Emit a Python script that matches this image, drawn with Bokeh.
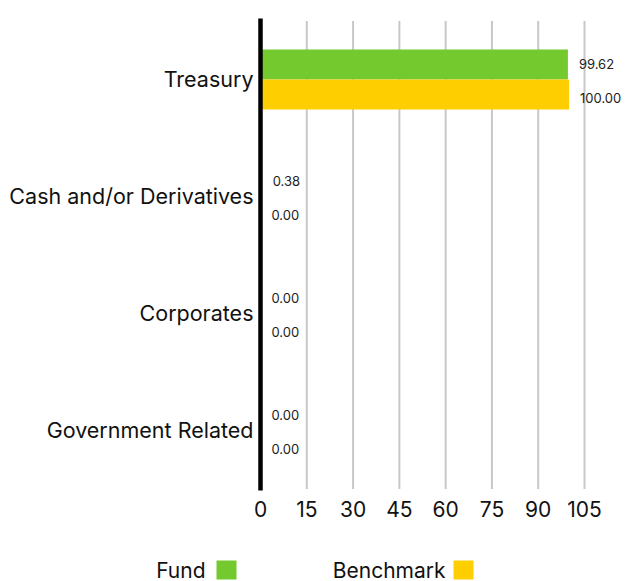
from bokeh.plotting import figure
from bokeh.models import (ColumnDataSource, Range1d, FixedTicker, Label, BoxAnnotation)
from bokeh.core.properties import value
from bokeh.embed import file_html
from bokeh.resources import INLINE

categories = ["Treasury", "Cash and/or Derivatives", "Corporates", "Government Related"]
fund = [99.62, 0.38, 0.00, 0.00]
benchmark = [100.00, 0.00, 0.00, 0.00]
x_ticks = [0, 15, 30, 45, 60, 75, 90, 105]
series_names = ["Fund", "Benchmark"]

FONT = "Inter"
GREEN = "#73C92D"
YELLOW = "#FFCE00"
series_colors = [GREEN, YELLOW]

n = len(categories)
ypos = [n - 1 - i for i in range(n)]          # first category at the top
OFF = 0.128                                   # bar offset inside a band
BAR_H = 0.255                                 # bar thickness (band units)

src = ColumnDataSource(dict(
    y_fund=[y + OFF for y in ypos],
    y_bench=[y - OFF for y in ypos],
    fund=fund,
    bench=benchmark,
    fund_lbl=["{:.2f}".format(v) for v in fund],
    bench_lbl=["{:.2f}".format(v) for v in benchmark],
))

# the frame fills the whole canvas; axes are pinned at fixed data locations
p = figure(
    x_range=Range1d(-84.26, 118.61),
    y_range=Range1d(-1.2906, 3.6752),
    width=626, height=581,
    output_backend="svg", toolbar_location=None,
    min_border=0,
)
p.outline_line_color = None
p.xgrid.grid_line_color = None
p.ygrid.grid_line_color = None

# vertical grid lines at the tick values, spanning the category bands
p.segment(x0=x_ticks, x1=x_ticks, y0=[-0.5] * len(x_ticks), y1=[n - 0.5] * len(x_ticks),
          line_color="#c8c8c8", line_width=2)

p.hbar(y="y_fund", left=0, right="fund", height=BAR_H, source=src,
       fill_color=GREEN, line_color=None)
p.hbar(y="y_bench", left=0, right="bench", height=BAR_H, source=src,
       fill_color=YELLOW, line_color=None)

p.text(x="fund", y="y_fund", text="fund_lbl", source=src,
       x_offset=11, y_offset=-1, text_align="left", text_baseline="middle",
       text_font=value(FONT), text_font_size="13px", text_color="#222222")
p.text(x="bench", y="y_bench", text="bench_lbl", source=src,
       x_offset=11, y_offset=4, text_align="left", text_baseline="middle",
       text_font=value(FONT), text_font_size="13px", text_color="#222222")

xa = p.xaxis[0]
xa.fixed_location = -0.5
xa.ticker = FixedTicker(ticks=x_ticks)
xa.axis_line_color = None
xa.major_tick_line_color = None
xa.minor_tick_line_color = None
xa.major_label_text_font = FONT
xa.major_label_text_font_size = "21px"
xa.major_label_text_color = "#111111"
xa.major_label_standoff = 6

ya = p.yaxis[0]
ya.fixed_location = 0
ya.bounds = (-0.513, 3.521)
ya.ticker = FixedTicker(ticks=ypos)
ya.major_label_overrides = {y: c for y, c in zip(ypos, categories)}
ya.axis_line_color = "black"
ya.axis_line_width = 4.5
ya.major_tick_line_color = None
ya.minor_tick_line_color = None
ya.major_label_text_font = FONT
ya.major_label_text_font_size = "21.5px"
ya.major_label_text_color = "#111111"
ya.major_label_standoff = 1

# legend row: label followed by swatch (screen units, frame = whole canvas)
legend_text_right = [205, 445]
legend_swatch_left = [216, 453]
for name, col, tx, sx in zip(series_names, series_colors, legend_text_right, legend_swatch_left):
    p.add_layout(Label(x=tx, y=11.5, x_units="screen", y_units="screen", text=name,
                       text_align="right", text_baseline="middle",
                       text_font=FONT, text_font_size="21px", text_color="#111111"))
    p.add_layout(BoxAnnotation(left=sx, right=sx + 20, bottom=2, top=21,
                               left_units="screen", right_units="screen",
                               bottom_units="screen", top_units="screen",
                               fill_color=col, fill_alpha=1.0, line_color=None))

open("out.html", "w").write(file_html(p, INLINE))
